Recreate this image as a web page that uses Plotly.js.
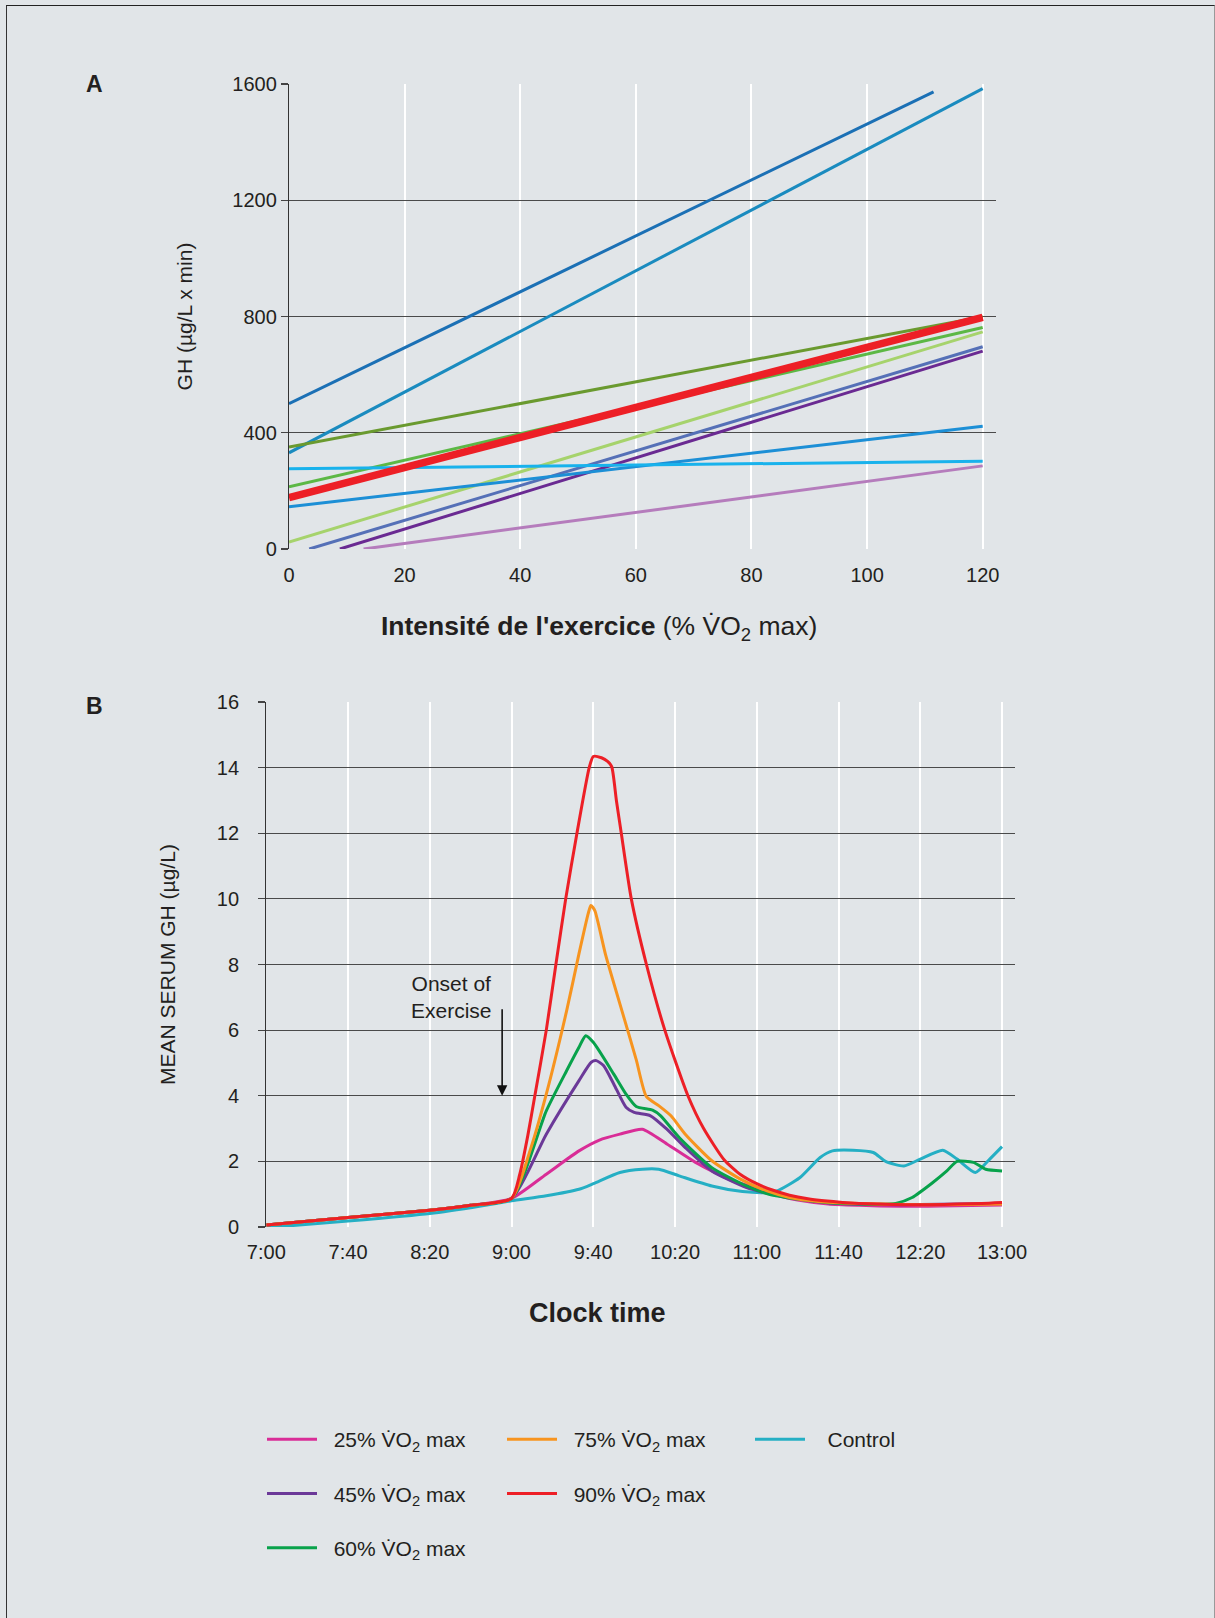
<!DOCTYPE html>
<html>
<head>
<meta charset="utf-8">
<script src="https://cdn.plot.ly/plotly-3.0.1.min.js"></script>
<style>
  html, body { margin: 0; padding: 0; background: #e1e5e8; }
  #wrap { position: relative; width: 1215px; height: 1618px; }
  #chart { position: absolute; left: 0; top: 0; width: 1215px; height: 1618px; }
  #frame { position: absolute; left: 6px; top: 5px; width: 1207px; height: 1620px;
           border-top: 1.5px solid #222; border-left: 1.5px solid #333; border-right: 1.5px solid #999;
           pointer-events: none; }
</style>
</head>
<body>
<div id="wrap"><div id="chart"></div><div id="frame"></div></div>
<script>
// ---------- Panel A: GH vs exercise intensity (regression lines) ----------
const aIntensityStart = [0, 0, 0, 0, 0, 3.5, 8.8, 0, 0, 12.9, 0];
const aIntensityEnd   = [111.5, 120, 120, 120, 120, 120, 120, 120, 120, 120, 120];
const aGHStart        = [500, 331, 351, 214, 24, 0, 0, 145, 276, 0, 177];
const aGHEnd          = [1573, 1584, 799, 762, 747, 696, 681, 422, 302, 286, 797];
const aXTicks = [0, 20, 40, 60, 80, 100, 120];
const aYTicks = [0, 400, 800, 1200, 1600];

// ---------- Panel B: mean serum GH vs clock time (minutes after 7:00) ----------
const bTickMinutes = [0, 40, 80, 120, 160, 200, 240, 280, 320, 360];
const bTickLabels  = ['7:00', '7:40', '8:20', '9:00', '9:40', '10:20', '11:00', '11:40', '12:20', '13:00'];

const tControl = [0, 40, 80, 105, 120, 137, 153, 160, 173, 184, 192, 202, 218, 233, 245, 250, 261, 271, 277, 287, 297, 303, 312, 320, 331, 338, 347, 354, 360];
const gControl = [-0.02, 0.18, 0.41, 0.64, 0.8, 0.95, 1.15, 1.32, 1.66, 1.76, 1.76, 1.56, 1.25, 1.08, 1.05, 1.1, 1.5, 2.12, 2.32, 2.34, 2.27, 2.0, 1.86, 2.07, 2.34, 2.07, 1.66, 2.07, 2.45];

const t25 = [0, 40, 80, 100, 120, 137, 153, 163, 173, 184, 196, 210, 228, 245, 251, 260, 275, 290, 310, 330, 360];
const g25 = [0.06, 0.29, 0.51, 0.66, 0.87, 1.61, 2.32, 2.65, 2.83, 2.98, 2.53, 1.97, 1.41, 1.1, 0.95, 0.82, 0.7, 0.66, 0.63, 0.64, 0.67];

const t45 = [0, 40, 80, 100, 120, 137, 153, 159, 161.5, 165, 170, 176, 180, 188, 196, 205, 218, 235, 246, 260, 275, 290, 310, 330, 360];
const g45 = [0.06, 0.29, 0.51, 0.66, 0.87, 2.83, 4.46, 5.02, 5.07, 4.92, 4.36, 3.65, 3.49, 3.39, 2.98, 2.42, 1.71, 1.2, 1.02, 0.85, 0.74, 0.7, 0.68, 0.69, 0.72];

const t60 = [0, 40, 80, 100, 120, 137, 147, 153, 156.3, 160, 170, 176, 181, 189, 193, 202, 218, 235, 246, 260, 275, 290, 300, 308, 316, 326, 333, 338, 346, 352, 360];
const g60 = [0.06, 0.29, 0.51, 0.66, 0.87, 3.54, 4.77, 5.48, 5.83, 5.63, 4.66, 4.05, 3.67, 3.56, 3.39, 2.73, 1.81, 1.25, 1.0, 0.85, 0.74, 0.7, 0.69, 0.72, 0.9, 1.35, 1.71, 2.0, 1.97, 1.76, 1.71];

const t75 = [0, 40, 80, 100, 120, 129, 137, 147, 153, 157.5, 158.8, 160.7, 166, 175, 181, 186, 192, 198, 205, 218, 232, 245, 256, 270, 290, 320, 360];
const g75 = [0.06, 0.29, 0.51, 0.66, 0.87, 2.32, 4.05, 6.6, 8.33, 9.55, 9.8, 9.65, 8.3, 6.38, 5.1, 3.97, 3.7, 3.39, 2.83, 2.02, 1.46, 1.1, 0.9, 0.78, 0.72, 0.68, 0.7];

const t90 = [0, 40, 80, 100, 120, 124, 128, 131.4, 137, 141.7, 146.5, 152, 158, 160, 164, 167, 169, 171.3, 173.7, 178.6, 186, 195, 206.3, 214, 224, 232, 240, 248, 256, 265, 273, 282, 290, 300, 313, 325, 338, 350, 360];
const g90 = [0.06, 0.29, 0.51, 0.66, 0.87, 1.6, 2.8, 4, 6, 8, 10, 12, 14, 14.34, 14.3, 14.19, 14.03, 13.0, 12, 10, 8, 6, 4, 3.0, 2.05, 1.6, 1.32, 1.12, 0.97, 0.86, 0.8, 0.75, 0.72, 0.7, 0.68, 0.68, 0.7, 0.72, 0.75];

const bNames = ['Control', '25% V\u0307O<sub>2</sub> max', '45% V\u0307O<sub>2</sub> max', '60% V\u0307O<sub>2</sub> max', '75% V\u0307O<sub>2</sub> max', '90% V\u0307O<sub>2</sub> max'];

// ---------- styles ----------
const FONT = '"Liberation Sans", Arial, Helvetica, sans-serif';
const INK = '#231f20';
const NB = '\u00a0';
const aColors = ['#1b70b5', '#1a8bbf', '#6a9a2f', '#5cb845', '#a6d36c', '#5570b7', '#6a2a92', '#1c8fd6', '#18b2ec', '#b57cbc', '#ed1f26'];
const aWidths = [3, 3, 3, 3, 3, 3, 3, 3, 3, 3, 7.5];
const bColors = ['#25afc4', '#d92d97', '#6b3998', '#08a24b', '#f7941f', '#ed1f26'];
const bLegends = ['legend3', 'legend', 'legend', 'legend', 'legend2', 'legend2'];
const bPad = [NB + NB + NB, NB + NB, NB + NB, NB + NB, NB + NB, NB + NB];
const bTimes = [tControl, t25, t45, t60, t75, t90];
const bVals = [gControl, g25, g45, g60, g75, g90];

const traces = [];
for (let i = 0; i < aGHStart.length; i++) {
  traces.push({
    type: 'scatter', mode: 'lines', xaxis: 'x', yaxis: 'y',
    x: [aIntensityStart[i], aIntensityEnd[i]],
    y: [aGHStart[i], aGHEnd[i]],
    line: { color: aColors[i], width: aWidths[i] },
    showlegend: false, hoverinfo: 'x+y'
  });
}
for (let i = 0; i < bNames.length; i++) {
  traces.push({
    type: 'scatter', mode: 'lines', xaxis: 'x2', yaxis: 'y2',
    x: bTimes[i], y: bVals[i], name: bPad[i] + bNames[i],
    line: { color: bColors[i], width: 3, shape: 'spline', smoothing: 0.6 },
    legend: bLegends[i], legendgroup: 'g' + i
  });
}

const W = 1215, H = 1618;
const px = v => v / W;
const py = v => 1 - v / H;

const legendCommon = {
  orientation: 'v', xanchor: 'left', yanchor: 'top', bgcolor: 'rgba(0,0,0,0)',
  borderwidth: 0, font: { family: FONT, size: 21, color: INK },
  tracegroupgap: 24, itemwidth: 50
};

const layout = {
  width: W, height: H,
  margin: { l: 0, r: 0, t: 0, b: 0 },
  paper_bgcolor: '#e1e5e8', plot_bgcolor: '#e1e5e8',
  font: { family: FONT, color: INK, size: 20 },
  showlegend: true,
  xaxis: {
    domain: [px(289), px(996)], range: [0, 122.3], anchor: 'y',
    tickvals: aXTicks, ticks: '', ticklabelstandoff: 12,
    showgrid: true, gridcolor: '#ffffff', gridwidth: 2,
    zeroline: false, showline: false,
    tickfont: { size: 20, family: FONT, color: INK }
  },
  yaxis: {
    domain: [py(549), py(84)], range: [0, 1600], anchor: 'x',
    tickvals: aYTicks, ticks: 'outside', ticklen: 7, tickcolor: '#444', tickwidth: 1.2,
    ticklabelstandoff: 0,
    showgrid: true, gridcolor: '#4a4a4a', gridwidth: 1.2,
    zeroline: false, showline: true, linecolor: '#333', linewidth: 1.2,
    tickfont: { size: 20, family: FONT, color: INK },
    title: { text: 'GH (µg/L x min)', font: { size: 21, family: FONT, color: INK }, standoff: 34 }
  },
  xaxis2: {
    domain: [px(266.3), px(1014.5)], range: [0, 366.1], anchor: 'y2',
    tickvals: bTickMinutes, ticktext: bTickLabels, ticks: '', ticklabelstandoff: 11,
    showgrid: true, gridcolor: '#ffffff', gridwidth: 2,
    zeroline: false, showline: false,
    tickfont: { size: 20, family: FONT, color: INK }
  },
  yaxis2: {
    domain: [py(1227), py(702)], range: [0, 16], anchor: 'x2',
    tickvals: [0, 2, 4, 6, 8, 10, 12, 14, 16], ticks: 'outside', ticklen: 7, tickcolor: '#444', tickwidth: 1.2,
    ticklabelstandoff: 15,
    showgrid: true, gridcolor: '#4a4a4a', gridwidth: 1.2,
    zeroline: false, showline: true, linecolor: '#333', linewidth: 1.2,
    tickfont: { size: 20, family: FONT, color: INK },
    title: { text: 'MEAN SERUM GH (µg/L)', font: { size: 21, family: FONT, color: INK }, standoff: 35 }
  },
  legend:  Object.assign({}, legendCommon, { x: px(262), y: py(1419) }),
  legend2: Object.assign({}, legendCommon, { x: px(502), y: py(1419) }),
  legend3: Object.assign({}, legendCommon, { x: px(750), y: py(1419) }),
  annotations: [
    { xref: 'paper', yref: 'paper', x: px(94), y: py(84), text: '<b>A</b>', showarrow: false,
      font: { size: 23, family: FONT, color: INK }, xanchor: 'center', yanchor: 'middle' },
    { xref: 'paper', yref: 'paper', x: px(94), y: py(706), text: '<b>B</b>', showarrow: false,
      font: { size: 23, family: FONT, color: INK }, xanchor: 'center', yanchor: 'middle' },
    { xref: 'paper', yref: 'paper', x: px(599), y: py(628), text: '<b>Intensité de l\'exercice</b> (% V\u0307O<sub>2</sub> max)',
      showarrow: false, font: { size: 26.5, family: FONT, color: INK }, xanchor: 'center', yanchor: 'middle' },
    { xref: 'paper', yref: 'paper', x: px(597.5), y: py(1313), text: '<b>Clock time</b>',
      showarrow: false, font: { size: 27, family: FONT, color: INK }, xanchor: 'center', yanchor: 'middle' },
    { xref: 'x2', yref: 'y2', x: 90.4, y: 7.0, text: 'Onset of<br>Exercise', showarrow: false,
      font: { size: 21, family: FONT, color: INK }, xanchor: 'center', yanchor: 'middle', align: 'center' },
    { xref: 'x2', yref: 'y2', axref: 'x2', ayref: 'y2', x: 115.4, y: 4.0, ax: 115.4, ay: 6.68,
      text: '', showarrow: true, arrowhead: 2, arrowsize: 1.3, arrowwidth: 1.6, arrowcolor: '#111' }
  ]
};

Plotly.newPlot('chart', traces, layout, { displayModeBar: false, staticPlot: true });
</script>
</body>
</html>
